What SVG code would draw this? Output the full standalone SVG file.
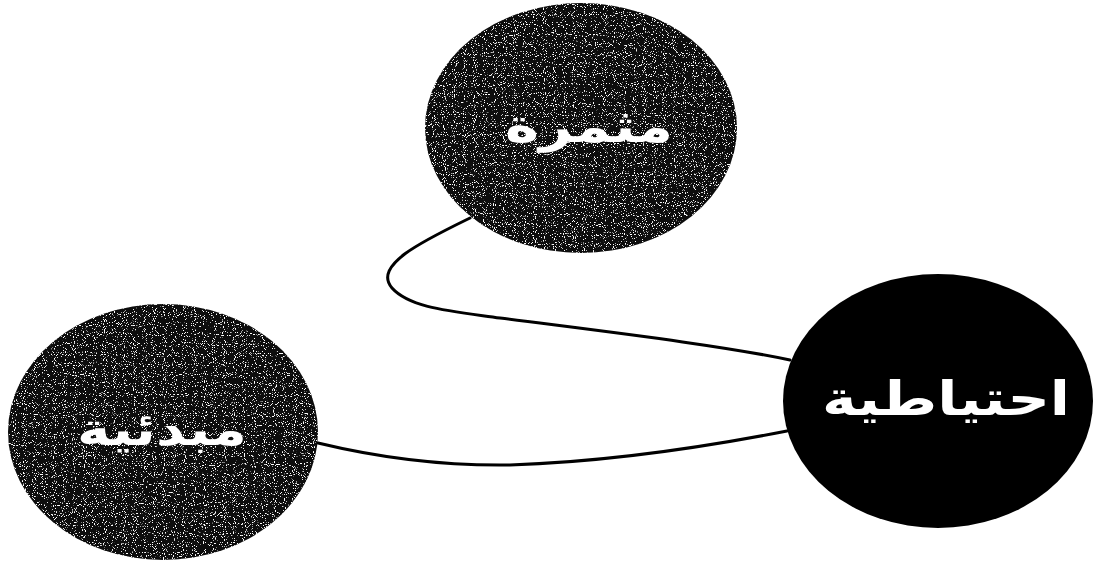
<svg xmlns="http://www.w3.org/2000/svg" width="1093" height="562" viewBox="0 0 1093 562">
  <defs>
    <filter id="speckle" x="0" y="0" width="100%" height="100%">
      <feTurbulence type="fractalNoise" baseFrequency="0.9" numOctaves="1" seed="3" result="n"/>
      <feColorMatrix in="n" type="matrix" values="0 0 0 0 1  0 0 0 0 1  0 0 0 0 1  0 0 0 14 -8.6" result="dots"/>
      <feComposite in="dots" in2="SourceGraphic" operator="in" result="d2"/>
      <feMerge><feMergeNode in="SourceGraphic"/><feMergeNode in="d2"/></feMerge>
    </filter>
  </defs>
  <style>
    .gray { fill: #0d0d0d; filter: url(#speckle); }
    .black { fill: #000; }
    .lbl { fill: #fff; font-family: "DejaVu Sans", "Noto Sans", sans-serif; font-weight: bold; text-anchor: middle; }
    .edge { fill: none; stroke: #000; stroke-width: 3; stroke-linecap: round; }
  </style>
  <rect width="1093" height="562" fill="#fff"/>
  <g id="connectors">
    <path class="edge" d="M470,218 C425,240 372,265 392,288 C410,308 450,311 500,318 C600,331 720,345 790,360"/>
    <path class="edge" d="M318,443 C380,458 440,466 510,465 C600,462 700,448 787,431"/>
  </g>
  <g id="node-top">
    <ellipse class="gray" cx="581" cy="128" rx="156" ry="125"/>
    <text class="lbl" x="589" y="142" font-size="46" textLength="168" lengthAdjust="spacingAndGlyphs">مثمرة</text>
  </g>
  <g id="node-left">
    <ellipse class="gray" cx="163" cy="432" rx="155" ry="128"/>
    <text class="lbl" x="162" y="445" font-size="46" textLength="170" lengthAdjust="spacingAndGlyphs">مبدئية</text>
  </g>
  <g id="node-right">
    <ellipse class="black" cx="938" cy="401" rx="155" ry="127"/>
    <text class="lbl" x="946" y="415" font-size="48" textLength="248" lengthAdjust="spacingAndGlyphs">احتياطية</text>
  </g>
</svg>
